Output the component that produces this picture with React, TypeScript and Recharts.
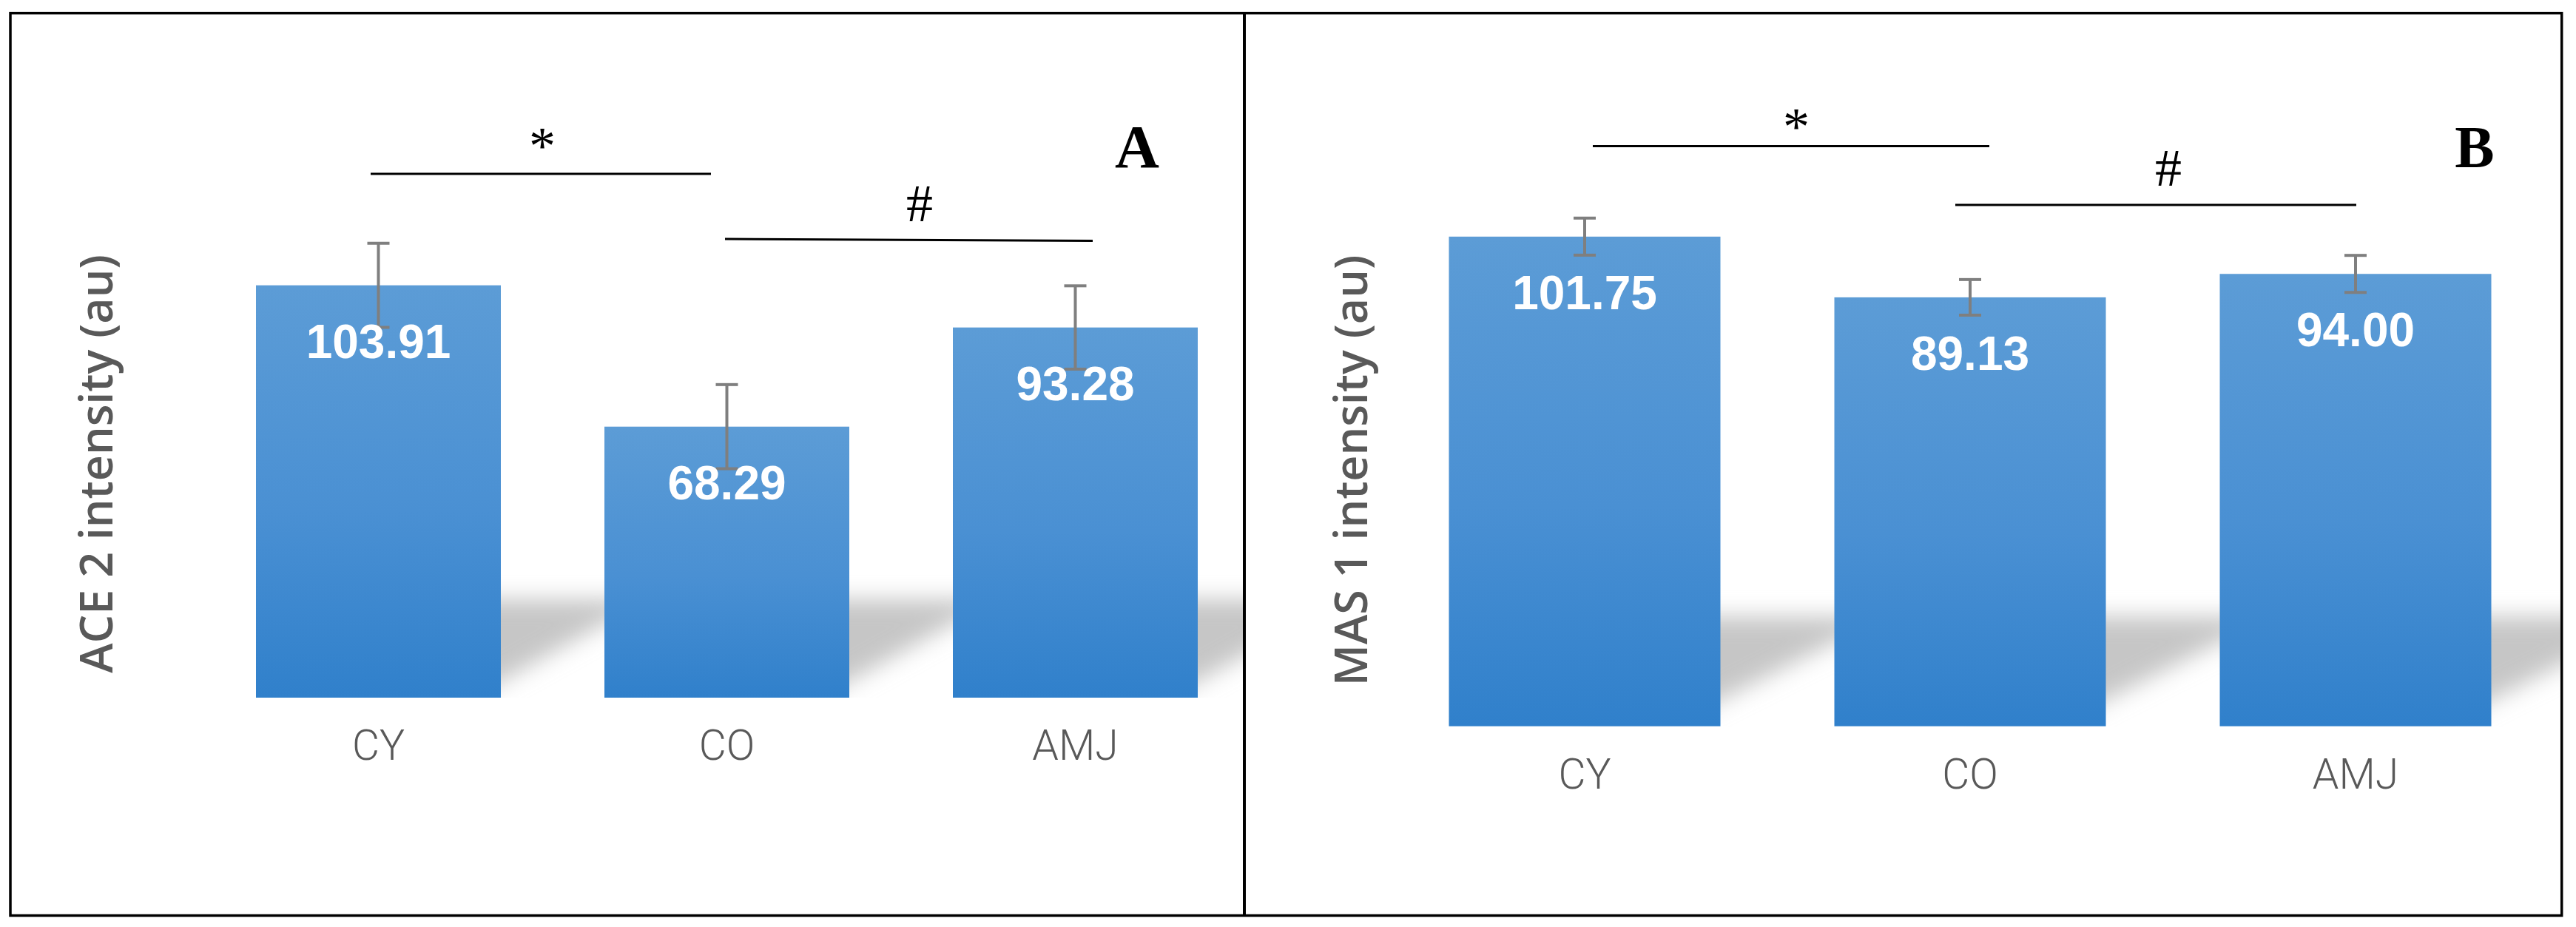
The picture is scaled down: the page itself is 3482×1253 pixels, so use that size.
import React from 'react';
import { BarChart, Bar, XAxis, YAxis, ErrorBar, LabelList } from 'recharts';

const categories = ['CY', 'CO', 'AMJ'];
const ace2Values = [103.91, 68.29, 93.28];
const ace2Errors = [10.6, 10.6, 10.5];
const mas1Values = [101.75, 89.13, 94.0];
const mas1Errors = [3.85, 3.7, 3.85];

const ace2Data = categories.map((name, i) => ({ name, value: ace2Values[i], err: ace2Errors[i] }));
const mas1Data = categories.map((name, i) => ({ name, value: mas1Values[i], err: mas1Errors[i] }));

const GRAY = '#595959';

const makeShape = (panel: string, sh: number, slope: number, off: number) => (props: any) => {
  const { x, y, width, height, index } = props;
  const B = y + height;
  const d = sh / slope;
  const gid = `grad-${panel}-${index}`;
  const fid = `blur-${panel}-${index}`;
  const cid = `clip-${panel}-${index}`;
  const x0 = x + width / 2;
  const x1 = x + width - off;
  const pts = `${x0},${B + 10} ${x1 - 10},${B + 10} ${x1 + d},${B - sh} ${x0},${B - sh}`;
  return (
    <g>
      <defs>
        <linearGradient id={gid} x1="0" y1="0" x2="0" y2="1">
          <stop offset="0%" stopColor="#5C9CD6" />
          <stop offset="55%" stopColor="#4A90D3" />
          <stop offset="100%" stopColor="#3080CB" />
        </linearGradient>
        <filter id={fid} x="-50%" y="-50%" width="200%" height="200%">
          <feGaussianBlur stdDeviation="15" />
        </filter>
        <clipPath id={cid}>
          <rect x={x} y={B - sh - 200} width={width + d + 200} height={sh + 200} />
        </clipPath>
      </defs>
      <g clipPath={`url(#${cid})`}>
        <polygon points={pts} fill="#c6c6c6" filter={`url(#${fid})`} />
      </g>
      <rect x={x} y={y} width={width} height={height} fill={`url(#${gid})`} />
    </g>
  );
};

const ValueLabel = (props: any) => {
  const { x, y, width, value } = props;
  return (
    <text
      x={x + width / 2}
      y={y + 98}
      textAnchor="middle"
      fill="#ffffff"
      fontSize={64}
      fontWeight={700}
      fontFamily="'Liberation Sans', Arial, sans-serif"
    >
      {Number(value).toFixed(2)}
    </text>
  );
};

const CatTick = (props: any) => {
  const { x, y, payload } = props;
  return (
    <text
      x={x}
      y={y + 84}
      textAnchor="middle"
      fill={GRAY}
      fontSize={57}
      fontWeight={300}
      fontFamily="Roboto, 'Noto Sans', sans-serif"
    >
      {payload.value}
    </text>
  );
};

const yTitle = (text: string, cx: number, cy: number) => () => (
  <text
    transform={`translate(${cx},${cy}) rotate(-90)`}
    textAnchor="middle"
    fill={GRAY}
    fontSize={61}
    fontWeight={600}
    fontFamily="'Open Sans', 'Noto Sans', sans-serif"
  >
    {text}
  </text>
);

const shapeA = makeShape('A', 133, 0.54, 47);
const shapeB = makeShape('B', 148, 0.49, 79);

export default function App() {
  return (
    <div
      style={{
        position: 'absolute',
        left: 0,
        top: 0,
        width: 3482,
        height: 1253,
        background: '#ffffff',
        overflow: 'hidden',
      }}
    >
      {/* Panel A */}
      <div style={{ position: 'absolute', left: 0, top: 0, width: 1680, height: 1253, overflow: 'hidden' }}>
        <BarChart
          width={1700}
          height={1253}
          data={ace2Data}
          margin={{ top: 138.4, right: 11, bottom: 210, left: 176 }}
        >
          <XAxis
            dataKey="name"
            height={100}
            axisLine={false}
            tickLine={false}
            tickSize={0}
            tickMargin={0}
            tick={<CatTick />}
            interval={0}
          />
          <YAxis
            width={100}
            domain={[0, 150]}
            ticks={[0, 150]}
            tick={false}
            axisLine={false}
            tickLine={false}
            label={{ content: yTitle('ACE 2 intensity (au)', 152, 627) }}
          />
          <Bar dataKey="value" barSize={331} shape={shapeA} isAnimationActive={false}>
            <ErrorBar dataKey="err" direction="y" width={15} strokeWidth={4} stroke="#7f7f7f" isAnimationActive={false} />
            <LabelList dataKey="value" content={<ValueLabel />} />
          </Bar>
        </BarChart>
      </div>

      {/* Panel B */}
      <div style={{ position: 'absolute', left: 1684, top: 0, width: 1779, height: 1253, overflow: 'hidden' }}>
        <BarChart
          width={1779}
          height={1253}
          data={mas1Data}
          margin={{ top: 136.1, right: 18.5, bottom: 171.4, left: 97.5 }}
        >
          <XAxis
            dataKey="name"
            height={100}
            axisLine={false}
            tickLine={false}
            tickSize={0}
            tickMargin={0}
            tick={<CatTick />}
            interval={0}
          />
          <YAxis
            width={100}
            domain={[0, 130]}
            ticks={[0, 130]}
            tick={false}
            axisLine={false}
            tickLine={false}
            label={{ content: yTitle('MAS 1 intensity (au)', 164, 636) }}
          />
          <Bar dataKey="value" barSize={367} shape={shapeB} isAnimationActive={false}>
            <ErrorBar dataKey="err" direction="y" width={15} strokeWidth={4} stroke="#7f7f7f" isAnimationActive={false} />
            <LabelList dataKey="value" content={<ValueLabel />} />
          </Bar>
        </BarChart>
      </div>

      {/* Frame and annotations */}
      <svg
        width={3482}
        height={1253}
        style={{ position: 'absolute', left: 0, top: 0, pointerEvents: 'none' }}
      >
        <rect x={14} y={17.7} width={3448.7} height={1219.8} fill="none" stroke="#000" strokeWidth={3.5} />
        <line x1={1682} y1={17.7} x2={1682} y2={1237.5} stroke="#000" strokeWidth={4} />

        <line x1={501} y1={235} x2={961} y2={235} stroke="#000" strokeWidth={3} />
        <line x1={980} y1={323} x2={1477} y2={325.6} stroke="#000" strokeWidth={3} />
        <text x={733} y={221} textAnchor="middle" fontSize={72} fontFamily="'Liberation Serif', 'Times New Roman', serif">*</text>
        <text x={1243} y={299} textAnchor="middle" fontSize={72} fontFamily="'Liberation Serif', 'Times New Roman', serif">#</text>
        <text x={1537} y={226} textAnchor="middle" fontSize={83} fontWeight={700} fontFamily="'Liberation Serif', 'Times New Roman', serif">A</text>

        <line x1={2153} y1={197.5} x2={2689} y2={197.5} stroke="#000" strokeWidth={3} />
        <line x1={2643} y1={277} x2={3185} y2={277} stroke="#000" strokeWidth={3} />
        <text x={2428} y={195} textAnchor="middle" fontSize={72} fontFamily="'Liberation Serif', 'Times New Roman', serif">*</text>
        <text x={2931} y={251} textAnchor="middle" fontSize={72} fontFamily="'Liberation Serif', 'Times New Roman', serif">#</text>
        <text x={3345} y={226} textAnchor="middle" fontSize={80} fontWeight={700} fontFamily="'Liberation Serif', 'Times New Roman', serif">B</text>
      </svg>
    </div>
  );
}
